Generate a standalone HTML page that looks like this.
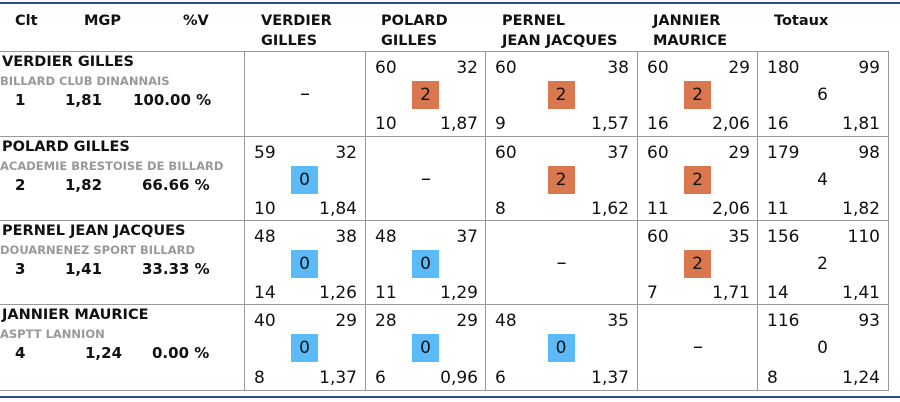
<!DOCTYPE html>
<html><head><meta charset="utf-8"><style>
body{margin:0;width:900px;height:402px;background:#fff;position:relative;overflow:hidden;font-family:"DejaVu Sans","Liberation Sans",sans-serif;color:#111}
div{position:absolute}
.bl{background:#2d4b9b;height:2px;left:0;width:900px}
.h{height:1px;background:#999;left:0;width:888px}
.v{width:1px;background:#999;top:51px;height:340px}
.hd{font-weight:bold;font-size:14.5px;line-height:20px;top:11px;white-space:nowrap}
.c{width:120px;height:84px;font-size:17px}
.c div{line-height:20px;white-space:nowrap}
.a{left:9px;top:6px}.b{right:8px;top:6px}.d{left:9px;bottom:2px}.e{right:8px;bottom:2px}
.g{left:50%;margin-left:-14px;top:29px;width:27px;height:28px;line-height:28px!important;text-align:center}
.o{background:#d9784f}.u{background:#5bbaf8}
.dash{left:0;right:0;top:31px;text-align:center;font-size:20px}
.nm{left:2px;font-weight:bold;font-size:14.5px;white-space:nowrap}
.cl{left:0;font-weight:bold;font-size:11.5px;color:#999;white-space:nowrap}
.st{font-weight:bold;font-size:15px;white-space:nowrap}
</style></head><body>
<div class="bl" style="top:2px"></div>
<div class="bl" style="top:396px"></div>
<div class="hd" style="left:15px">Clt</div>
<div class="hd" style="left:84px">MGP</div>
<div class="hd" style="left:183px">%V</div>
<div class="hd" style="left:261px">VERDIER<br>GILLES</div>
<div class="hd" style="left:381px">POLARD<br>GILLES</div>
<div class="hd" style="left:502px">PERNEL<br>JEAN JACQUES</div>
<div class="hd" style="left:653px">JANNIER<br>MAURICE</div>
<div class="hd" style="left:774px">Totaux</div>
<div class="h" style="top:51px"></div>
<div class="h" style="top:136px"></div>
<div class="h" style="top:220px"></div>
<div class="h" style="top:304px"></div>
<div class="h" style="top:390px"></div>
<div class="v" style="left:244px"></div>
<div class="v" style="left:365px"></div>
<div class="v" style="left:485px"></div>
<div class="v" style="left:637px"></div>
<div class="v" style="left:757px"></div>
<div class="v" style="left:888px"></div>

<div class="nm" style="top:54px">VERDIER GILLES</div>
<div class="cl" style="top:74px">BILLARD CLUB DINANNAIS</div>
<div class="st" style="top:91px;left:15px">1</div><div class="st" style="top:91px;left:65px">1,81</div><div class="st" style="top:91px;left:133px">100.00 %</div>
<div class="nm" style="top:139px">POLARD GILLES</div>
<div class="cl" style="top:159px">ACADEMIE BRESTOISE DE BILLARD</div>
<div class="st" style="top:176px;left:15px">2</div><div class="st" style="top:176px;left:65px">1,82</div><div class="st" style="top:176px;left:142px">66.66 %</div>
<div class="nm" style="top:223px">PERNEL JEAN JACQUES</div>
<div class="cl" style="top:243px">DOUARNENEZ SPORT BILLARD</div>
<div class="st" style="top:260px;left:15px">3</div><div class="st" style="top:260px;left:65px">1,41</div><div class="st" style="top:260px;left:142px">33.33 %</div>
<div class="nm" style="top:307px">JANNIER MAURICE</div>
<div class="cl" style="top:327px">ASPTT LANNION</div>
<div class="st" style="top:344px;left:15px">4</div><div class="st" style="top:344px;left:85px">1,24</div><div class="st" style="top:344px;left:152px">0.00 %</div>

<div class="c" style="left:245px;top:52px"><div class="dash">–</div></div>
<div class="c" style="left:366px;top:52px"><div class="a">60</div><div class="b">32</div><div class="g o">2</div><div class="d">10</div><div class="e">1,87</div></div>
<div class="c" style="left:486px;top:52px;width:151px"><div class="a">60</div><div class="b">38</div><div class="g o">2</div><div class="d">9</div><div class="e">1,57</div></div>
<div class="c" style="left:638px;top:52px"><div class="a">60</div><div class="b">29</div><div class="g o">2</div><div class="d">16</div><div class="e">2,06</div></div>
<div class="c" style="left:758px;top:52px;width:130px"><div class="a">180</div><div class="b">99</div><div class="g">6</div><div class="d">16</div><div class="e">1,81</div></div>

<div class="c" style="left:245px;top:137px"><div class="a">59</div><div class="b">32</div><div class="g u">0</div><div class="d">10</div><div class="e">1,84</div></div>
<div class="c" style="left:366px;top:137px"><div class="dash">–</div></div>
<div class="c" style="left:486px;top:137px;width:151px"><div class="a">60</div><div class="b">37</div><div class="g o">2</div><div class="d">8</div><div class="e">1,62</div></div>
<div class="c" style="left:638px;top:137px"><div class="a">60</div><div class="b">29</div><div class="g o">2</div><div class="d">11</div><div class="e">2,06</div></div>
<div class="c" style="left:758px;top:137px;width:130px"><div class="a">179</div><div class="b">98</div><div class="g">4</div><div class="d">11</div><div class="e">1,82</div></div>

<div class="c" style="left:245px;top:221px"><div class="a">48</div><div class="b">38</div><div class="g u">0</div><div class="d">14</div><div class="e">1,26</div></div>
<div class="c" style="left:366px;top:221px"><div class="a">48</div><div class="b">37</div><div class="g u">0</div><div class="d">11</div><div class="e">1,29</div></div>
<div class="c" style="left:486px;top:221px;width:151px"><div class="dash">–</div></div>
<div class="c" style="left:638px;top:221px"><div class="a">60</div><div class="b">35</div><div class="g o">2</div><div class="d">7</div><div class="e">1,71</div></div>
<div class="c" style="left:758px;top:221px;width:130px"><div class="a">156</div><div class="b">110</div><div class="g">2</div><div class="d">14</div><div class="e">1,41</div></div>

<div class="c" style="left:245px;top:305px;height:85px"><div class="a">40</div><div class="b">29</div><div class="g u">0</div><div class="d">8</div><div class="e">1,37</div></div>
<div class="c" style="left:366px;top:305px;height:85px"><div class="a">28</div><div class="b">29</div><div class="g u">0</div><div class="d">6</div><div class="e">0,96</div></div>
<div class="c" style="left:486px;top:305px;width:151px;height:85px"><div class="a">48</div><div class="b">35</div><div class="g u">0</div><div class="d">6</div><div class="e">1,37</div></div>
<div class="c" style="left:638px;top:305px;height:85px"><div class="dash">–</div></div>
<div class="c" style="left:758px;top:305px;width:130px;height:85px"><div class="a">116</div><div class="b">93</div><div class="g">0</div><div class="d">8</div><div class="e">1,24</div></div>
</body></html>
